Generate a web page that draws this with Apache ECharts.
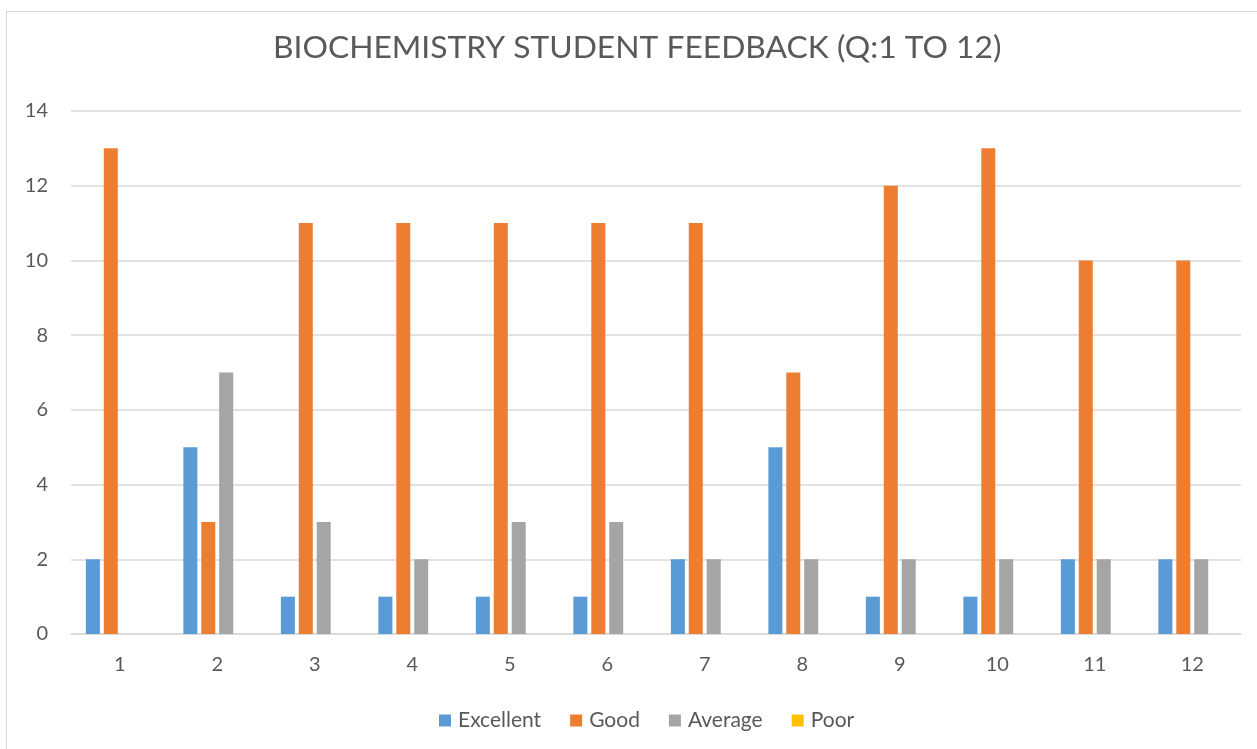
<!DOCTYPE html>
<html>
<head>
<meta charset="utf-8">
<script src="https://cdn.jsdelivr.net/npm/echarts@6/dist/echarts.min.js"></script>
<style>
html,body{margin:0;padding:0;background:#fff;}
#frame{position:absolute;left:6px;top:11px;width:1251px;height:738px;border-left:1.5px solid #D9D9D9;border-top:1.5px solid #D9D9D9;box-sizing:border-box;}
#chart{position:absolute;left:0;top:0;width:1257px;height:749px;}
</style>
</head>
<body>
<div id="frame"></div>
<div id="chart"></div>
<script>
const titleText = 'BIOCHEMISTRY STUDENT FEEDBACK (Q:1 TO 12)';
const categories = ['1','2','3','4','5','6','7','8','9','10','11','12'];
const seriesNames = ['Excellent','Good','Average','Poor'];
const excellent = [2,5,1,1,1,1,2,5,1,1,2,2];
const good = [13,3,11,11,11,11,11,7,12,13,10,10];
const average = [0,7,3,2,3,3,2,2,2,2,2,2];
const poor = [0,0,0,0,0,0,0,0,0,0,0,0];
const colors = ['#5B9BD5','#ED7D31','#A5A5A5','#FFC000'];
const values = [excellent, good, average, poor];

const font = 'Lato';
const chart = echarts.init(document.getElementById('chart'), null, {renderer:'canvas'});
chart.setOption({
  animation:false,
  title:{text:titleText,left:268,top:27,textStyle:{fontFamily:font,fontWeight:'normal',fontSize:31.8,color:'#595959'}},
  color:colors,
  legend:{data:seriesNames,bottom:13,left:434,icon:'rect',itemWidth:12,itemHeight:12,itemGap:29,
    textStyle:{fontFamily:font,fontSize:21,color:'#595959',padding:[0,0,0,2]}},
  grid:{left:71,right:16,top:111,bottom:115,containLabel:false},
  xAxis:{type:'category',data:categories,
    axisLine:{lineStyle:{color:'#D9D9D9',width:1.5}},axisTick:{show:false},
    axisLabel:{fontFamily:font,fontSize:20,color:'#595959',margin:21}},
  yAxis:{type:'value',min:0,max:14,interval:2,
    axisLine:{show:false},axisTick:{show:false},
    splitLine:{lineStyle:{color:'#D9D9D9',width:1.5}},
    axisLabel:{fontFamily:font,fontSize:20,color:'#595959',margin:23}},
  series: seriesNames.map((n,i)=>({name:n,type:'bar',data:values[i],barWidth:14,barGap:'28%',
    itemStyle:{color:colors[i]}}))
});
</script>
</body>
</html>
